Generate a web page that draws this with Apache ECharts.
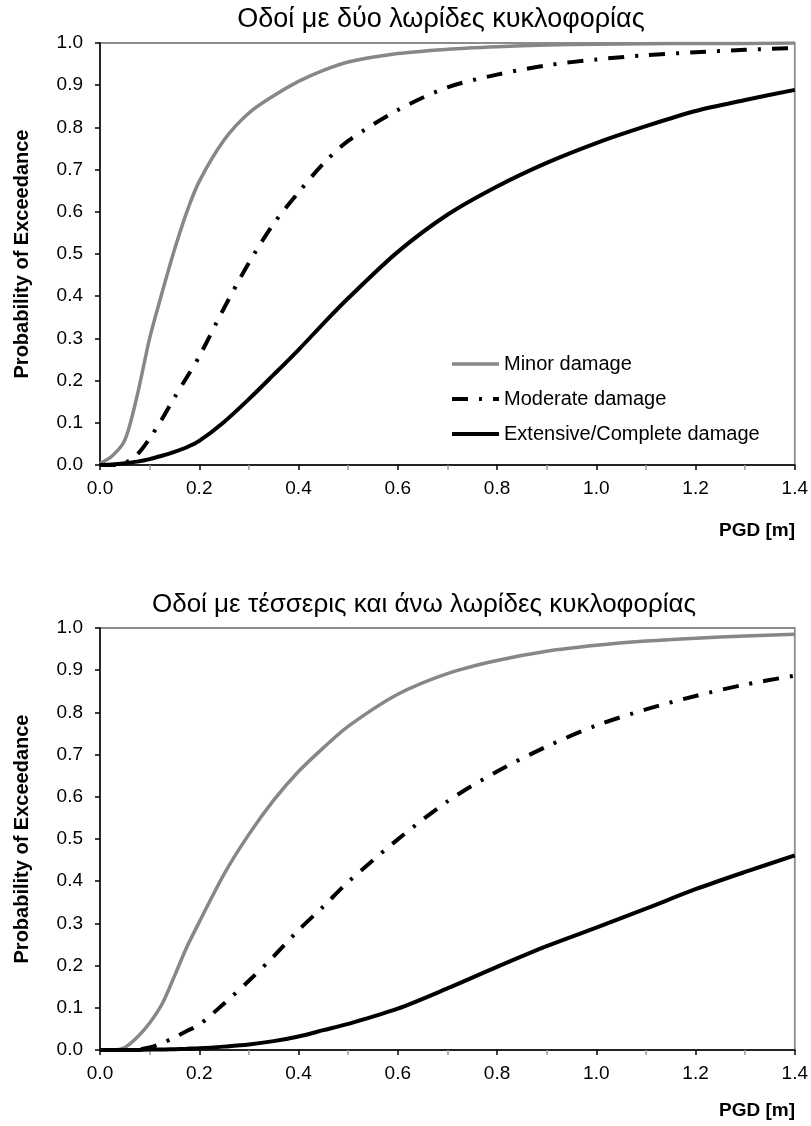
<!DOCTYPE html>
<html>
<head>
<meta charset="utf-8">
<script src="https://cdn.jsdelivr.net/npm/echarts@6/dist/echarts.min.js"></script>
<style>
  html, body { margin: 0; padding: 0; background: #fff; }
  #chart { width: 811px; height: 1126px; }
</style>
</head>
<body>
<div id="chart"></div>
<script>
// PGD values (m) shared by all curves
var pgd = [0, 0.025, 0.05, 0.075, 0.1, 0.125, 0.15, 0.175, 0.2, 0.25, 0.3, 0.35, 0.4, 0.45, 0.5, 0.6, 0.7, 0.8, 0.9, 1.0, 1.1, 1.2, 1.3, 1.4];

// two-lane roads
var twoLaneMinor = [0.004, 0.022, 0.059, 0.165, 0.30, 0.408, 0.51, 0.60, 0.672, 0.77, 0.834, 0.875, 0.909, 0.935, 0.955, 0.975, 0.985, 0.991, 0.995, 0.997, 0.998, 0.999, 0.999, 1.0];
var twoLaneModerate = [0, 0, 0.005, 0.025, 0.063, 0.109, 0.16, 0.208, 0.257, 0.372, 0.479, 0.572, 0.646, 0.714, 0.768, 0.841, 0.895, 0.925, 0.947, 0.961, 0.971, 0.978, 0.984, 0.988];
var twoLaneExtensive = [0, 0.001, 0.004, 0.008, 0.014, 0.022, 0.031, 0.042, 0.057, 0.102, 0.156, 0.214, 0.273, 0.335, 0.395, 0.505, 0.593, 0.66, 0.716, 0.763, 0.803, 0.839, 0.865, 0.889];

// four or more lanes
var fourLaneMinor = [0, 0, 0.006, 0.03, 0.064, 0.109, 0.175, 0.244, 0.303, 0.417, 0.511, 0.592, 0.66, 0.716, 0.767, 0.843, 0.892, 0.923, 0.945, 0.959, 0.969, 0.976, 0.981, 0.985];
var fourLaneModerate = [0, 0, 0, 0.001, 0.006, 0.016, 0.03, 0.045, 0.06, 0.11, 0.164, 0.222, 0.284, 0.34, 0.398, 0.499, 0.589, 0.66, 0.719, 0.769, 0.807, 0.839, 0.866, 0.887];
var fourLaneExtensive = [0, 0, 0, 0, 0.001, 0.001, 0.002, 0.003, 0.004, 0.008, 0.013, 0.021, 0.032, 0.047, 0.062, 0.098, 0.146, 0.197, 0.246, 0.29, 0.335, 0.381, 0.422, 0.461];

var seriesNames = ['Minor damage', 'Moderate damage', 'Extensive/Complete damage'];
var titles = ['Οδοί με δύο λωρίδες κυκλοφορίας', 'Οδοί με τέσσερις και άνω λωρίδες κυκλοφορίας'];
var xTicks = [0, 0.2, 0.4, 0.6, 0.8, 1.0, 1.2, 1.4];

var FONT = '"Liberation Sans", Arial, Helvetica, sans-serif';

function pairs(ys) {
    var out = [];
    for (var i = 0; i < pgd.length; i++) {
        out.push([pgd[i], ys[i]]);
    }
    return out;
}

function makeX(idx) {
    return {
        type: 'value',
        gridIndex: idx,
        min: xTicks[0],
        max: xTicks[xTicks.length - 1],
        interval: 0.2,
        axisLine: { lineStyle: { color: '#000', width: 1.5 } },
        axisTick: { show: true, length: 5, lineStyle: { color: '#000', width: 1.5 } },
        minorTick: { show: true, splitNumber: 2, length: 5, lineStyle: { color: '#999', width: 1.5 } },
        splitLine: { show: false },
        axisLabel: {
            color: '#000', fontSize: 19, fontFamily: FONT, margin: 14,
            formatter: function (v) { return v.toFixed(1); }
        }
    };
}

function makeY(idx) {
    return {
        type: 'value',
        gridIndex: idx,
        min: 0,
        max: 1,
        interval: 0.1,
        name: 'Probability of Exceedance',
        nameLocation: 'middle',
        nameRotate: 90,
        nameGap: 68,
        nameTextStyle: { color: '#000', fontSize: 20, fontWeight: 'bold', fontFamily: FONT },
        axisLine: { show: true, lineStyle: { color: '#000', width: 1.5 } },
        axisTick: { show: true, length: 5, lineStyle: { color: '#000', width: 1.5 } },
        splitLine: { show: false },
        axisLabel: {
            color: '#000', fontSize: 19, fontFamily: FONT, margin: 17,
            formatter: function (v) { return v.toFixed(1); }
        }
    };
}

var styles = [
    { color: '#878787', width: 3.5, type: 'solid' },
    { color: '#000', width: 4, type: [16, 11, 3, 11] },
    { color: '#000', width: 4, type: 'solid' }
];

var panels = [
    [twoLaneMinor, twoLaneModerate, twoLaneExtensive],
    [fourLaneMinor, fourLaneModerate, fourLaneExtensive]
];

var series = [];
for (var p = 0; p < panels.length; p++) {
    for (var s = 0; s < 3; s++) {
        series.push({
            name: seriesNames[s],
            type: 'line',
            xAxisIndex: p,
            yAxisIndex: p,
            data: pairs(panels[p][s]),
            showSymbol: false,
            symbol: 'none',
            smooth: 0.3,
            clip: true,
            animation: false,
            lineStyle: { color: styles[s].color, width: styles[s].width, type: styles[s].type, cap: 'butt' },
            itemStyle: { color: styles[s].color }
        });
    }
}

var option = {
    backgroundColor: '#fff',
    animation: false,
    grid: [
        { left: 100, top: 43, width: 695, height: 422, show: true, borderColor: '#8c8c8c', borderWidth: 1.8, backgroundColor: 'transparent' },
        { left: 100, top: 628, width: 695, height: 422, show: true, borderColor: '#8c8c8c', borderWidth: 1.8, backgroundColor: 'transparent' }
    ],
    xAxis: [makeX(0), makeX(1)],
    yAxis: [makeY(0), makeY(1)],
    legend: {
        data: seriesNames,
        orient: 'vertical',
        left: 450,
        top: 354,
        padding: 0,
        itemWidth: 47,
        itemHeight: 14,
        itemGap: 15,
        selectedMode: false,
        itemStyle: { opacity: 0 },
        lineStyle: { width: 'inherit' },
        textStyle: { color: '#000', fontSize: 20, fontFamily: FONT, lineHeight: 20 }
    },
    graphic: [
        { type: 'text', x: 441, y: 20, style: { text: titles[0], fill: '#000', font: '27px ' + FONT, textAlign: 'center', textVerticalAlign: 'middle' } },
        { type: 'text', x: 424, y: 605, style: { text: titles[1], fill: '#000', font: '26px ' + FONT, textAlign: 'center', textVerticalAlign: 'middle' } },
        { type: 'text', right: 16, top: 521, style: { text: 'PGD [m]', fill: '#000', font: 'bold 19px ' + FONT } },
        { type: 'text', right: 16, top: 1101, style: { text: 'PGD [m]', fill: '#000', font: 'bold 19px ' + FONT } }
    ],
    series: series
};

var chart = echarts.init(document.getElementById('chart'), null, { renderer: 'canvas' });
chart.setOption(option);
</script>
</body>
</html>
